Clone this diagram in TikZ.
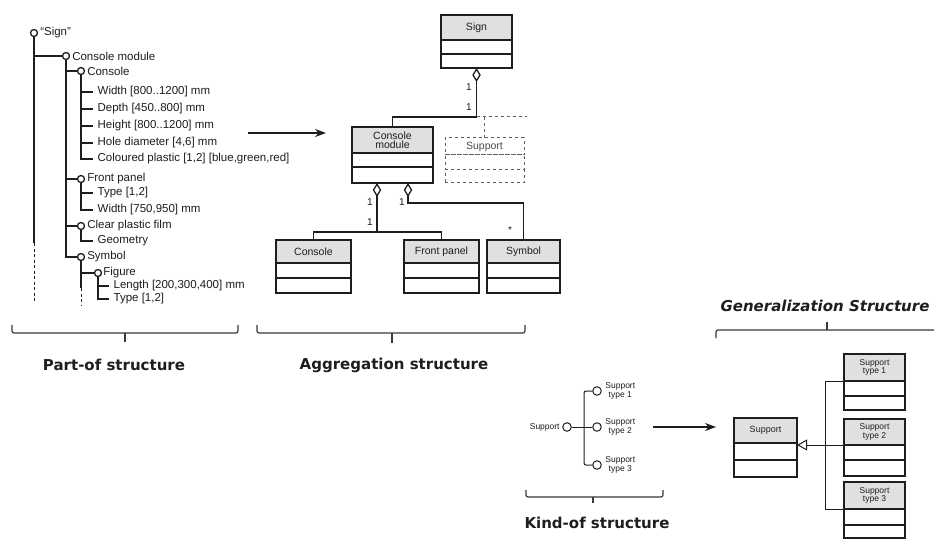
\documentclass[tikz,border=0pt]{standalone}
\usepackage{fontspec}
\setmainfont{Liberation Sans}
\newfontfamily\hdfont{DejaVu Sans}
\usetikzlibrary{positioning,arrows.meta}

\definecolor{ink}{HTML}{1E1E1E}
\definecolor{hdgray}{HTML}{E0E0E0}
\definecolor{brgray}{HTML}{3A3A3A}
\definecolor{dashgray}{HTML}{606060}

\tikzset{
  dot/.style={circle,draw,fill=white,inner sep=0pt,minimum size=7pt,line width=1.3pt},
  kdot/.style={dot,minimum size=8.5pt,line width=1pt},
  lbl/.style={inner sep=1.5pt,font=\fontsize{11.5}{12}\selectfont},
  attr/.style={lbl,anchor=west},
  clshead/.style={draw,fill=hdgray,minimum width=#1,minimum height=24pt,outer sep=0pt,
    inner sep=1pt,align=center,font=\fontsize{10.5}{11}\selectfont},
  clsrow/.style={draw,minimum width=#1,minimum height=14pt,outer sep=0pt,inner sep=0pt},
  dia/.style={{Diamond[open,length=14pt,width=8.5pt]}-},
  mult/.style={inner sep=1pt,font=\fontsize{10}{11}\selectfont},
  small/.style={font=\fontsize{8.5}{9}\selectfont,align=center,inner sep=1pt},
  brace/.style={draw=brgray,line width=1.2pt,rounded corners=2pt},
  title/.style={font=\hdfont\bfseries\fontsize{15}{17}\selectfont},
}

\begin{document}
\begin{tikzpicture}[x=1pt,y=-1pt,line width=1.3pt,color=ink,>={Stealth[length=11pt,width=8pt]}]
\useasboundingbox[fill=white] (0,0) rectangle (934,540);

% ============================
% Part-of structure (tree)
% ============================
\node[dot] (sgn) at (34,33) {};
\node[lbl,right=0pt of sgn] (sgnl) {“Sign”};
\node[dot] (cmod) at (66,56) {};
\node[lbl,right=0pt of cmod] (cmodl) {Console module};
\node[dot] (con) at (81,71) {};
\node[lbl,right=0pt of con] (conl) {Console};
\node[attr] (w1) at (95.5,92) {Width [800..1200] mm};
\node[attr] (w2) at (95.5,109) {Depth [450..800] mm};
\node[attr] (w3) at (95.5,126) {Height [800..1200] mm};
\node[attr] (w4) at (95.5,143) {Hole diameter [4,6] mm};
\node[attr] (w5) at (95.5,159) {Coloured plastic [1,2] [blue,green,red]};
\node[dot] (fp) at (81,179) {};
\node[lbl,right=0pt of fp] (fpl) {Front panel};
\node[attr] (f1) at (95.5,193) {Type [1,2]};
\node[attr] (f2) at (95.5,210) {Width [750,950] mm};
\node[dot] (cpf) at (81,226) {};
\node[lbl,right=0pt of cpf] (cpfl) {Clear plastic film};
\node[attr] (c1) at (95.5,241) {Geometry};
\node[dot] (sym) at (81,257) {};
\node[lbl,right=0pt of sym] (syml) {Symbol};
\node[dot] (fig) at (98,273) {};
\node[lbl,right=-1pt of fig] (figl) {Figure};
\node[attr] (g1) at (111.5,286) {Length [200,300,400] mm};
\node[attr] (g2) at (111.5,299) {Type [1,2]};

\coordinate (sgnend) at (34,243);
\coordinate (sgndash) at (34,303);
\coordinate (symend) at (81,288);
\coordinate (symdash) at (81,306);
\draw (sgn) -- (sgnend);
\draw[dashed,line width=0.9pt,dash pattern=on 3pt off 2.5pt] (sgnend) -- (sgndash);
\draw (sgn.south) |- (cmod.west);
\foreach \k in {con,fp,cpf,sym}
  \draw (cmod.south) |- (\k.west);
\foreach \a in {w1,w2,w3,w4,w5}
  \draw (con.south) |- ([xshift=-3pt]\a.west);
\foreach \a in {f1,f2}
  \draw (fp.south) |- ([xshift=-3pt]\a.west);
\draw (cpf.south) |- ([xshift=-3pt]c1.west);
\draw (sym.south) |- (fig.west);
\draw (sym) -- (symend);
\draw[dashed,line width=0.9pt,dash pattern=on 3pt off 2.5pt] (symend) -- (symdash);
\foreach \a in {g1,g2}
  \draw (fig.south) |- ([xshift=-3pt]\a.west);

\coordinate (a1s) at (248,133);
\coordinate (a1e) at (326,133);
\draw[->,line width=1.5pt] (a1s) -- (a1e);

% ============================
% Aggregation structure
% ============================
\node[clshead=71pt,minimum height=25pt] (signh) at (476.5,27.5) {Sign};
\node[clsrow=71pt,below=0pt of signh] (signa) {};
\node[clsrow=71pt,below=0pt of signa] (signo) {};

\node[clshead=81pt,minimum height=26pt] (cmh) at (392.5,140) {Console\\[-2pt]module};
\node[clsrow=81pt,below=0pt of cmh] (cma) {};
\node[clsrow=81pt,minimum height=16pt,below=0pt of cma] (cmo) {};

\node[clshead=79pt,minimum height=17pt,dashed,line width=1pt,draw=dashgray,fill=white,text=ink!80] (suph) at (484.5,146.5) {Support};
\node[clsrow=79pt,minimum height=15pt,dashed,line width=1pt,draw=dashgray,below=0pt of suph] (supa) {};
\node[clsrow=79pt,minimum height=13pt,dashed,line width=1pt,draw=dashgray,below=0pt of supa] (supo) {};

\node[clshead=75pt,minimum height=23pt] (conh) at (313.5,251.5) {Console};
\node[clsrow=75pt,minimum height=15pt,below=0pt of conh] (cona) {};
\node[clsrow=75pt,minimum height=15pt,below=0pt of cona] (cono) {};

\node[clshead=75pt,minimum height=23pt] (fph) at (441.5,251.5) {Front panel};
\node[clsrow=75pt,minimum height=15pt,below=0pt of fph] (fpa) {};
\node[clsrow=75pt,minimum height=15pt,below=0pt of fpa] (fpo) {};

\node[clshead=73pt,minimum height=23pt] (symh) at (523.5,251.5) {Symbol};
\node[clsrow=73pt,minimum height=15pt,below=0pt of symh] (syma) {};
\node[clsrow=73pt,minimum height=15pt,below=0pt of syma] (symo) {};

\coordinate (j1) at (476.5,117);
\coordinate (j1e) at (527,117);
\coordinate (j2) at (377,232);
\draw[dia] (signo.south) -- (j1) -| (cmh.north);
\draw[dashed,line width=1pt,draw=dashgray] (j1) -- (j1e);
\draw[dashed,line width=1pt,draw=dashgray] (suph.north) -- (suph.north |- j1);
\draw[dia] ([xshift=-15.5pt]cmo.south) -- (j2);
\draw (conh.north) |- (j2) -| (fph.north);
\draw[dia] ([xshift=15.5pt]cmo.south) -- ++(0,20) -| (symh.north);

\node[mult] (m1) at (469,87) {1};
\node[mult] (m2) at (469,107) {1};
\node[mult] (m3) at (370,202) {1};
\node[mult] (m4) at (370,222) {1};
\node[mult] (m5) at (402,202) {1};
\node[mult] (m6) at (510,230) {*};

% ============================
% Kind-of structure
% ============================
\node[kdot] (ks) at (567,427) {};
\node[small,left=1pt of ks] (ksl) {Support};
\node[kdot] (k1) at (597,391) {};
\node[kdot] (k2) at (597,427) {};
\node[kdot] (k3) at (597,465) {};
\node[small,right=2pt of k1] (k1l) {Support\\type 1};
\node[small,right=2pt of k2] (k2l) {Support\\type 2};
\node[small,right=2pt of k3] (k3l) {Support\\type 3};
\coordinate (kb) at (584,427);
\draw[line width=1pt] (ks) -- (k2);
\draw[line width=1pt,rounded corners=2pt] (k1.west) -| (kb) |- (k3.west);

\coordinate (a2s) at (653,427);
\coordinate (a2e) at (716,427);
\draw[->,line width=1.1pt] (a2s) -- (a2e);

% ============================
% Generalization structure
% ============================
\node[clshead=63pt,minimum height=25pt,font=\fontsize{9}{9.5}\selectfont] (gsh) at (765.5,430.5) {Support};
\node[clsrow=63pt,minimum height=17pt,below=0pt of gsh] (gsa) {};
\node[clsrow=63pt,minimum height=17pt,below=0pt of gsa] (gso) {};

\node[clshead=61pt,minimum height=27pt,font=\fontsize{8.5}{8.5}\selectfont] (t1h) at (874.5,367.5) {Support\\type 1};
\node[clsrow=61pt,minimum height=15pt,below=0pt of t1h] (t1a) {};
\node[clsrow=61pt,minimum height=14pt,below=0pt of t1a] (t1o) {};

\node[clshead=61pt,minimum height=26pt,font=\fontsize{8.5}{8.5}\selectfont] (t2h) at (874.5,432) {Support\\type 2};
\node[clsrow=61pt,minimum height=15pt,below=0pt of t2h] (t2a) {};
\node[clsrow=61pt,minimum height=16pt,below=0pt of t2a] (t2o) {};

\node[clshead=61pt,minimum height=27pt,font=\fontsize{8.5}{8.5}\selectfont] (t3h) at (874.5,495.5) {Support\\type 3};
\node[clsrow=61pt,minimum height=16pt,below=0pt of t3h] (t3a) {};
\node[clsrow=61pt,minimum height=13pt,below=0pt of t3a] (t3o) {};

\draw[line width=1pt,-{Triangle[open,length=10pt,width=11pt]}] (t2h.south west) -- (t2h.south west -| gsh.east);
\draw[line width=1pt] (t1h.south west) -- ++(-19,0) |- (t3h.south west);

% ============================
% Braces and titles
% ============================
\draw[brace] (12,325) -- (12,333) -- (238,333) -- (238,325);
\draw[brace] (125,333) -- (125,342);
\draw[brace] (257,325) -- (257,333) -- (525,333) -- (525,325);
\draw[brace] (392,333) -- (392,343);
\draw[brace] (526,490) -- (526,497) -- (663,497) -- (663,490);
\draw[brace] (593,497) -- (593,503);
\draw[brace] (716,338) -- (716,330) -- (940,330);
\draw[brace] (827,330) -- (827,322);

\node[title] (ptitle) at (114,365) {Part-of structure};
\node[title] (atitle) at (394,365) {Aggregation structure};
\node[title] (ktitle) at (597,523) {Kind-of structure};
\node[title,font=\hdfont\bfseries\itshape\fontsize{15}{17}\selectfont] (gtitle) at (825,306) {Generalization Structure};
\end{tikzpicture}
\end{document}
